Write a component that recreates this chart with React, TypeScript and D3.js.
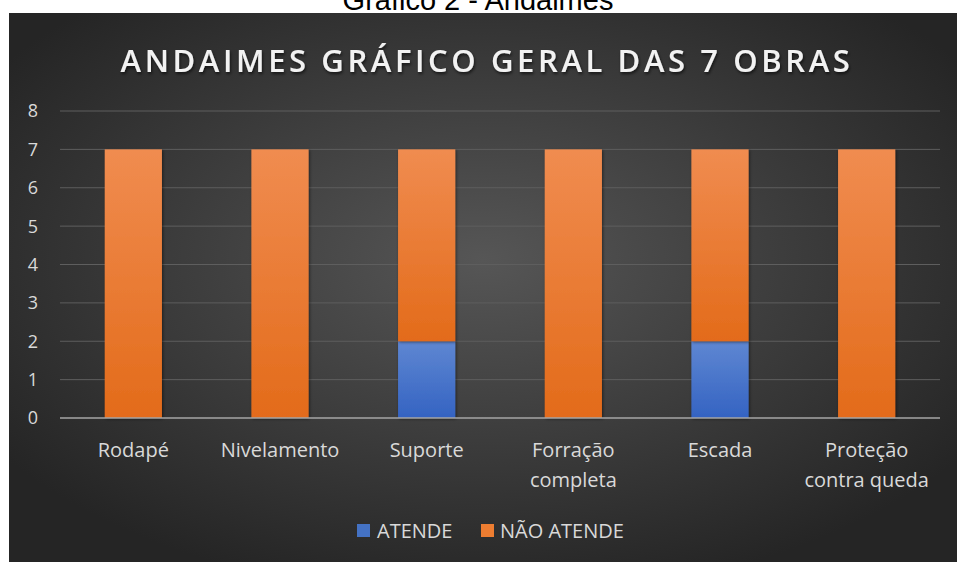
import { useMemo } from "react";
import * as d3 from "d3";

const W = 957;
const H = 562;

const categories = [
  "Rodapé",
  "Nivelamento",
  "Suporte",
  "Forração completa",
  "Escada",
  "Proteção contra queda",
];
// two-line labels as in the picture
const categoryLines = [
  ["Rodapé"],
  ["Nivelamento"],
  ["Suporte"],
  ["Forração", "completa"],
  ["Escada"],
  ["Proteção", "contra queda"],
];
const atende = [0, 0, 2, 0, 2, 0];
const naoAtende = [7, 7, 5, 7, 5, 7];
const seriesNames = ["ATENDE", "NÃO ATENDE"];
const yTicks = [0, 1, 2, 3, 4, 5, 6, 7, 8];

const FONT = "'Open Sans', Lato, sans-serif";

const box = { x: 9, y: 13, w: 948, h: 549 };
const plot = { left: 60, right: 940, top: 111, bottom: 418 };

export default function App() {
  const x = useMemo(
    () =>
      d3
        .scaleBand()
        .domain(categories)
        .range([plot.left, plot.right])
        .paddingInner(0.61)
        .paddingOuter(0.305),
    []
  );
  const y = useMemo(
    () => d3.scaleLinear().domain([0, 8]).range([plot.bottom, plot.top]),
    []
  );

  const stacked = useMemo(() => {
    const rows = categories.map((c, i) => ({
      cat: c,
      ATENDE: atende[i],
      "NÃO ATENDE": naoAtende[i],
    }));
    return d3.stack().keys(seriesNames)(rows as any);
  }, []);

  const fills = ["url(#gBlue)", "url(#gOrange)"];

  return (
    <svg
      width={W}
      height={H}
      style={{ position: "absolute", left: 0, top: 0, background: "#fff" }}
    >
      <defs>
        <radialGradient id="bg" cx="50%" cy="45%" r="62%">
          <stop offset="0%" stopColor="#565656" />
          <stop offset="100%" stopColor="#252525" />
        </radialGradient>
        <linearGradient id="gOrange" x1="0" y1="0" x2="0" y2="1">
          <stop offset="0%" stopColor="#f08c50" />
          <stop offset="100%" stopColor="#e36b1a" />
        </linearGradient>
        <linearGradient id="gBlue" x1="0" y1="0" x2="0" y2="1">
          <stop offset="0%" stopColor="#5f87d2" />
          <stop offset="100%" stopColor="#3463c2" />
        </linearGradient>
        <filter id="shadow" x="-20%" y="-5%" width="140%" height="110%">
          <feDropShadow dx="1" dy="1" stdDeviation="1.5" floodColor="#000" floodOpacity="0.5" />
        </filter>
        <filter id="tshadow" x="-5%" y="-20%" width="110%" height="140%">
          <feDropShadow dx="1" dy="2" stdDeviation="1.5" floodColor="#000" floodOpacity="0.6" />
        </filter>
      </defs>

      <text
        x={478}
        y={10}
        textAnchor="middle"
        fontFamily="Arial, 'Liberation Sans', sans-serif"
        fontSize={29}
        fill="#000"
      >
        Gráfico 2 - Andaimes
      </text>

      <rect x={box.x} y={box.y} width={box.w} height={box.h} fill="url(#bg)" />

      <text
        x={487}
        y={72}
        textAnchor="middle"
        fontFamily={FONT}
        fontWeight={600}
        fontSize={31}
        letterSpacing={3.6}
        fill="#f2f2f2"
        filter="url(#tshadow)"
      >
        ANDAIMES GRÁFICO GERAL DAS 7 OBRAS
      </text>

      {yTicks.map((t) => (
        <g key={t}>
          {t > 0 && (
            <line
              x1={plot.left}
              x2={plot.right}
              y1={y(t)}
              y2={y(t)}
              stroke="#5e5e5e"
              strokeWidth={1}
            />
          )}
          <text
            x={33}
            y={y(t)}
            dy="0.36em"
            textAnchor="middle"
            fontFamily={FONT}
            fontSize={18}
            fill="#d9d9d9"
          >
            {t}
          </text>
        </g>
      ))}

      {stacked.map((s, si) =>
        s.map((d, i) => {
          const h = y(d[0]) - y(d[1]);
          if (h <= 0) return null;
          return (
            <rect
              key={`${si}-${i}`}
              x={x(categories[i])}
              y={y(d[1])}
              width={x.bandwidth()}
              height={h}
              fill={fills[si]}
              filter="url(#shadow)"
            />
          );
        })
      )}

      <line
        x1={plot.left}
        x2={plot.right}
        y1={y(0)}
        y2={y(0)}
        stroke="#a6a6a6"
        strokeWidth={1.5}
      />

      {categoryLines.map((lines, i) => {
        const cx = (x(categories[i]) as number) + x.bandwidth() / 2;
        return (
          <text
            key={i}
            x={cx}
            y={457}
            textAnchor="middle"
            fontFamily={FONT}
            fontSize={20}
            fill="#d9d9d9"
          >
            {lines.map((l, j) => (
              <tspan key={j} x={cx} dy={j === 0 ? 0 : 30}>
                {l}
              </tspan>
            ))}
          </text>
        );
      })}

      <g fontFamily={FONT} fontSize={20} fill="#d9d9d9">
        <rect x={357} y={524} width={13} height={13} fill="#4472c4" />
        <text x={377} y={538}>
          {seriesNames[0]}
        </text>
        <rect x={481} y={524} width={13} height={13} fill="#ed7d31" />
        <text x={500} y={538}>
          {seriesNames[1]}
        </text>
      </g>
    </svg>
  );
}
